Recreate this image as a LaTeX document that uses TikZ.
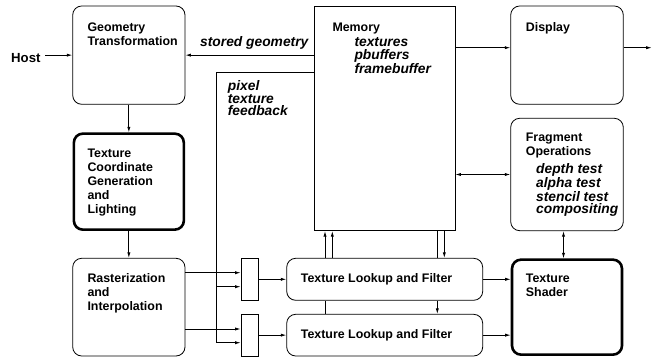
\documentclass[tikz,border=0pt]{standalone}
\usepackage{fontspec}
\setmainfont{Liberation Sans}
\usetikzlibrary{arrows.meta}
\newcommand\mystrut{\rule{0pt}{0.74em}}
\begin{document}
\begin{tikzpicture}[x=1pt,y=-1pt,
  box/.style={draw, line width=0.8pt, rounded corners=9pt, inner sep=0pt, fill=white},
  thickbox/.style={draw, line width=2.6pt, rounded corners=9pt, inner sep=0pt, fill=white},
  sqbox/.style={draw, line width=0.8pt, inner sep=0pt, fill=white},
  up/.style={font=\bfseries\fontsize{12.4}{14}\selectfont, inner sep=0pt, align=left, anchor=north west},
  it/.style={font=\bfseries\itshape\fontsize{13.8}{12.5}\selectfont, inner sep=0pt, align=left, anchor=north west},
  arr/.style={-{Latex[length=5.5pt,width=3.2pt]}, line width=0.8pt},
  darr/.style={{Latex[length=5.5pt,width=3.2pt]}-{Latex[length=5.5pt,width=3.2pt]}, line width=0.8pt},
  ln/.style={line width=0.8pt}]
\useasboundingbox (0,0) rectangle (654,358);

% boxes
\node[box, minimum width=112.3pt, minimum height=98.3pt] (gt) at (128.85,55.15) {};
\node[thickbox, minimum width=110pt, minimum height=96pt] (tcg) at (128.85,181.65) {};
\node[box, minimum width=112.3pt, minimum height=97.7pt] (ras) at (128.85,307.15) {};
\node[sqbox, minimum width=140.7pt, minimum height=224.7pt] (mem) at (384.65,118.35) {};
\node[box, minimum width=112.6pt, minimum height=98.3pt] (disp) at (567,55.15) {};
\node[box, minimum width=112.6pt, minimum height=112.4pt] (frag) at (567,174.5) {};
\node[thickbox, minimum width=110pt, minimum height=95pt] (ts) at (567,307.15) {};
\node[sqbox, minimum width=17.7pt, minimum height=42pt] (mux1) at (249.85,279.3) {};
\node[sqbox, minimum width=17.7pt, minimum height=41.7pt] (mux2) at (249.85,335.15) {};
\node[box, minimum width=196pt, minimum height=42pt] (tlf1) at (384.7,279.3) {};
\node[box, minimum width=196pt, minimum height=41.7pt] (tlf2) at (384.7,335.15) {};

% texts
\node[font=\bfseries\fontsize{13.2}{14}\selectfont, inner sep=0pt, anchor=base west] (host) at (11,62.3) {Host};
\node[up] (gtt) at (87.3,21.8) {\mystrut Geometry\\Transformation};
\node[up] (tcgt) at (87.3,148.1) {\mystrut Texture\\Coordinate\\Generation\\and\\Lighting};
\node[up] (rast) at (87.3,273.5) {\mystrut Rasterization\\and\\Interpolation};
\node[up] (memt) at (332.3,21.8) {\mystrut Memory};
\node[it] (memi) at (354.3,36.5) {\mystrut textures\\pbuffers\\framebuffer};
\node[up] (dispt) at (525.7,21.8) {\mystrut Display};
\node[up] (fragt) at (525.7,132.5) {\mystrut Fragment\\Operations};
\node[it] (fragi) at (536,163.3) {\mystrut depth test\\alpha test\\stencil test\\compositing};
\node[up] (tst) at (525.7,273.5) {\mystrut Texture\\Shader};
\node[up] (tlf1t) at (300.7,273.5) {\mystrut Texture Lookup and Filter};
\node[up] (tlf2t) at (300.7,329.1) {\mystrut Texture Lookup and Filter};
\node[font=\bfseries\itshape\fontsize{13.8}{12.5}\selectfont, inner sep=0pt, anchor=base west] (sg) at (200,46.5) {stored geometry};
\node[it] (pix) at (227.7,80.5) {\mystrut pixel\\texture\\feedback};

% helper coordinates
\coordinate (ydisp) at (0,47.7);
\coordinate (out) at (651.7,47.7);
\coordinate (fb) at (216.7,72.7);
\coordinate (yr1) at (0,272.7);
\coordinate (yr2) at (0,329);
\coordinate (yf1) at (0,286.7);
\coordinate (yf2) at (0,342.7);
\coordinate (xa) at (325,0);
\coordinate (xb) at (332.3,0);
\coordinate (xc) at (437.3,0);
\coordinate (xd) at (444.3,0);
\coordinate (xfs) at (563.5,0);

% connectors
\draw[arr] ([xshift=4.3pt]host.east |- gt.west) -- (gt.west);
\draw[arr] (mem.west |- gt.east) -- (gt.east);
\draw[arr] (gt.south) -- (tcg.north);
\draw[arr] (tcg.south) -- (ras.north);
\draw[arr] (mem.east |- ydisp) -- (disp.west |- ydisp);
\draw[arr] (disp.east |- out) -- (out);
\draw[darr] (mem.east |- frag.west) -- (frag.west);
\draw[darr] (frag.south -| xfs) -- (ts.north -| xfs);
\draw[arr] (tlf1.east) -- (ts.west |- tlf1.east);
\draw[arr] (tlf2.east) -- (ts.west |- tlf2.east);
\draw[arr] (mux1.east) -- (tlf1.west);
\draw[arr] (mux2.east) -- (tlf2.west);
\draw[arr] (ras.east |- yr1) -- (mux1.west |- yr1);
\draw[arr] (ras.east |- yr2) -- (mux2.west |- yr2);
\draw[arr] (mem.west |- fb) -- (fb) -- (fb |- yf2) -- (mux2.west |- yf2);
\draw[arr] (fb |- yf1) -- (mux1.west |- yf1);
% texture lookup <-> memory
\draw[ln] (tlf2.north -| xa) -- (tlf1.south -| xa);
\draw[arr] (tlf1.north -| xa) -- (mem.south -| xa);
\draw[arr] (tlf1.north -| xb) -- (mem.south -| xb);
\draw[ln] (mem.south -| xc) -- (tlf1.north -| xc);
\draw[arr] (tlf1.south -| xc) -- (tlf2.north -| xc);
\draw[arr] (mem.south -| xd) -- (tlf1.north -| xd);
\end{tikzpicture}
\end{document}
